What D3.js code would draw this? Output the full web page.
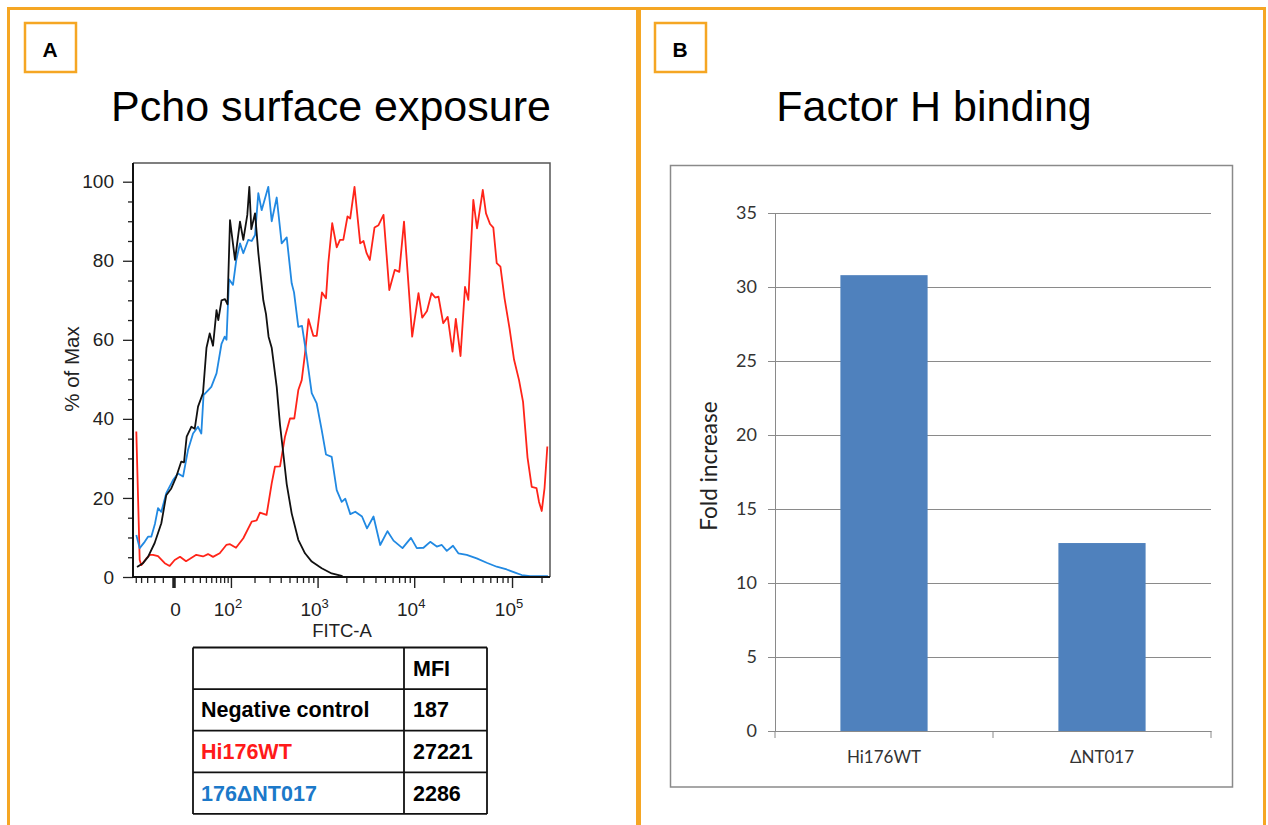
<!DOCTYPE html>
<html>
<head>
<meta charset="utf-8">
<script src="https://cdn.jsdelivr.net/npm/d3@7"></script>
<style>
  body { margin: 0; background: #fff; }
  svg { display: block; }
</style>
</head>
<body>
<svg id="svg" width="1268" height="825"></svg>
<script>
// ---------- data: panel A (flow histogram, x = FITC-A, y = % of Max) ----------
const negControl = [[-47.5,2.5],[-36.7,3.5],[-28.7,5.1],[-19.5,8.6],[-11.6,13.6],[-6.5,20.7],[-1.9,22.4],[2.4,25.4],
  [7.0,29.2],[9.8,29],[12.7,35.5],[18.2,38],[22.6,37.5],[27.3,43.1],[35.0,46.5],[41.0,58],[47.0,61.6],[53.6,58.5],
  [61.2,67.5],[65.3,65],[73.2,70],[82.4,70.3],[89.6,69],[97.1,90.3],[113.6,80.2],[132.1,89.9],[145.6,85.3],[163.4,91.6],
  [173,98.7],[183,88],[203,92],[222,82],[254,70],[273,66.5],[292,60.8],[317,58],[361,48.1],[393,38.5],[427,31.3],
  [466,23.5],[528,16.1],[623,9.4],[735,6],[867,3.9],[1105,2.2],[1407,0.9],[1789,0.3],[1847,0]];

const mutant017 = [[-48.9,10.6],[-42.5,7.3],[-33.9,8.9],[-28.7,10.2],[-24.0,10.2],[-19.1,13.5],[-15.4,17.4],[-11.6,16.5],
  [-6.5,21.2],[-0.4,24.5],[3.9,26.2],[8.8,25.4],[14.2,32.1],[20.4,36.3],[27.3,38],[32.3,36.3],[35.9,46],[44.3,47.3],
  [50.1,48.1],[61.2,51.5],[73.2,59],[81.6,60.8],[86.7,60],[94.0,75.3],[106.7,73.9],[118.2,80.2],[132.1,84.4],[145.6,81.9],
  [168.1,85.3],[185,85],[203,86.5],[222,97.1],[243,92.8],[290,98.7],[317,90],[361,96],[410,84.4],[466,85.9],[528,74.3],
  [560,72],[623,63.3],[683,63.5],[767,55.7],[867,46.5],[979,43.9],[1105,37.2],[1226,31],[1407,30.4],[1588,22],[1789,19],
  [1951,19.8],[2199,15.9],[2477,16.5],[2906,15.3],[3273,12.3],[3820,15.3],[4476,8.1],[5320,11.6],[6134,9.2],[7585,7.3],
  [9260,9.9],[10630,7.3],[12450,7.4],[14580,8.9],[17030,7.7],[19160,8.1],[21560,6.6],[24940,7.9],[28270,6],[34440,5.6],
  [43570,4.7],[55130,3.6],[69760,2.6],[88250,1.9],[107400,1.1],[125700,0.5],[152800,0.2],[232700,0.2]];

const wildType = [[-48.9,36.8],[-42.5,4.3],[-39.6,3.0],[-31.3,4.7],[-25.8,5.6],[-21.7,5.6],[-15.4,5.3],[-8.0,3.5],
  [-3.3,2.8],[1.0,4.3],[5.8,5.1],[12.0,4.0],[16.6,4.6],[24.8,5.6],[35.0,5.2],[43.8,5.8],[53.6,5.1],[68.7,6],[86.1,8.1],
  [97.1,8.3],[117.1,7.4],[145.6,9.8],[185,14],[212,14.3],[232,16.3],[277,15.7],[317,23.7],[345,27.9],[393,28],[446,35.5],
  [506,40.1],[564,40.1],[623,47.3],[678,49.8],[735,56.5],[801,65.2],[901,61],[979,61],[1113,72],[1226,70.5],[1297,79.4],
  [1425,89.5],[1588,83.4],[1718,85.3],[1860,85.3],[2056,91.2],[2194,90.7],[2431,98.7],[2784,84.4],[3012,85],[3234,82],
  [3498,80.2],[3910,88.4],[4300,89],[4840,91.6],[5550,72.6],[6325,77.7],[7030,77.2],[7860,89.9],[9530,60.8],[11060,71.8],
  [12070,65.6],[13520,67.3],[15030,71.8],[16400,70.7],[17720,70.9],[19800,64.2],[22020,65.8],[24650,57],[26650,65.3],
  [29770,55.9],[33100,73.4],[35770,70.1],[40240,95.4],[43880,88.2],[50290,97.9],[54220,92],[59590,89.3],[64400,88.4],
  [69760,79.4],[76120,78.5],[83860,70.5],[94300,62.9],[104800,55],[117900,49.8],[129600,44.3],[144000,30.2],[158900,22.8],
  [177900,22.5],[188700,19],[201100,16.7],[214800,22.5],[229400,33]];

const histYTicks = [0, 20, 40, 60, 80, 100];
const histXMajor = [0, 100, 1000, 10000, 100000];
const histXLabels = [["0", ""], ["10", "2"], ["10", "3"], ["10", "4"], ["10", "5"]];

// MFI table
const tableNames = ["Negative control", "Hi176WT", "176\u0394NT017"];
const tableMFI = ["187", "27221", "2286"];

// ---------- data: panel B (bar chart) ----------
const barCategories = ["Hi176WT", "\u0394NT017"];
const barValues = [30.8, 12.7];
const barTicks = [0, 5, 10, 15, 20, 25, 30, 35];

// ---------- drawing ----------
const svg = d3.select('#svg');
const orange = '#f5a623';
const arial = '"Liberation Sans", Arial, sans-serif';

// panel frames
svg.append('rect').attr('x', 8.5).attr('y', 8.5).attr('width', 629).attr('height', 840)
  .attr('fill', 'none').attr('stroke', orange).attr('stroke-width', 3);
svg.append('rect').attr('x', 639.5).attr('y', 8.5).attr('width', 625).attr('height', 840)
  .attr('fill', 'none').attr('stroke', orange).attr('stroke-width', 3);

// panel letters
[['A', 25, 50], ['B', 655, 680]].forEach(function (p) {
  svg.append('rect').attr('x', p[1]).attr('y', 23).attr('width', 51).attr('height', 49)
    .attr('fill', '#fff').attr('stroke', orange).attr('stroke-width', 2.5);
  svg.append('text').attr('x', p[2]).attr('y', 57).attr('text-anchor', 'middle')
    .style('font', 'bold 21px ' + arial).text(p[0]);
});

// titles
svg.append('text').attr('x', 331).attr('y', 121).attr('text-anchor', 'middle')
  .style('font', '43px ' + arial).text('Pcho surface exposure');
svg.append('text').attr('x', 934).attr('y', 121).attr('text-anchor', 'middle')
  .style('font', '43px ' + arial).text('Factor H binding');

// ================= Panel A histogram =================
const xA = d3.scaleSymlog().constant(35).domain([-55.7, 244200]).range([133, 550]);
const yA = d3.scaleLinear().domain([0, 100]).range([577, 181.7]);
const plotTop = 163;

const gA = svg.append('g');

// frame (top and right) in grey
gA.append('path')
  .attr('d', 'M133,' + plotTop + 'H550V577')
  .attr('fill', 'none').attr('stroke', '#555').attr('stroke-width', 1.5);

// clip for the curves
svg.append('clipPath').attr('id', 'clipA').append('rect')
  .attr('x', 133).attr('y', plotTop).attr('width', 417).attr('height', 577 - plotTop);

const line = d3.line().x(d => xA(d[0])).y(d => yA(d[1]));
const curves = [[wildType, '#ff2419'], [mutant017, '#2189e2'], [negControl, '#111']];
gA.append('g').attr('clip-path', 'url(#clipA)')
  .selectAll('path').data(curves).join('path')
  .attr('d', d => line(d[0]))
  .attr('fill', 'none').attr('stroke', d => d[1]).attr('stroke-width', 1.8)
  .attr('stroke-linejoin', 'round');

// y axis: minor ticks every 5, major every 20
const yMinor = d3.range(0, 101, 5).filter(v => histYTicks.indexOf(v) < 0);
gA.append('g').attr('transform', 'translate(133,0)')
  .call(d3.axisLeft(yA).tickValues(yMinor).tickSize(5).tickFormat(''))
  .call(g => g.select('.domain').remove())
  .selectAll('line').attr('stroke', '#222').attr('stroke-width', 1.3);
const yAxisA = gA.append('g').attr('transform', 'translate(133,0)')
  .call(d3.axisLeft(yA).tickValues(histYTicks).tickSize(10).tickPadding(9))
  .call(g => g.select('.domain').remove());
yAxisA.selectAll('line').attr('stroke', '#222').attr('stroke-width', 1.3);
yAxisA.selectAll('text').style('font', '19px ' + arial).attr('fill', '#222');

// x axis: minor ticks (negative and positive log-spaced), major ticks at decades
const xMinor = [-50, -40, -30, -20, -10];
[10, 100, 1000, 10000].forEach(function (d) {
  for (let m = 1; m <= 9; m++) if (m > 1 || d === 10) xMinor.push(m * d);
});
xMinor.push(200000);
const xMinorF = xMinor.filter(v => histXMajor.indexOf(v) < 0);
gA.append('g').attr('transform', 'translate(0,577)')
  .call(d3.axisBottom(xA).tickValues(xMinorF).tickSize(6).tickFormat(''))
  .call(g => g.select('.domain').remove())
  .selectAll('line').attr('stroke', '#222').attr('stroke-width', 1.3);
const xAxisA = gA.append('g').attr('transform', 'translate(0,577)')
  .call(d3.axisBottom(xA).tickValues(histXMajor).tickSize(11).tickFormat(''))
  .call(g => g.select('.domain').remove());
xAxisA.selectAll('line').attr('stroke', '#222').attr('stroke-width', (d) => d === 0 ? 3.5 : 1.4);

// decade labels with superscripts
const xLab = gA.append('g').selectAll('text').data(histXMajor).join('text')
  .attr('x', (d, i) => xA(d) + (i === 0 ? 2 : -3)).attr('y', 616)
  .attr('text-anchor', 'middle').attr('fill', '#222')
  .style('font', '19px ' + arial);
xLab.append('tspan').text((d, i) => histXLabels[i][0]);
xLab.append('tspan').attr('dy', -8).style('font-size', '13px').text((d, i) => histXLabels[i][1]);

// axis lines
gA.append('path').attr('d', 'M133,' + plotTop + 'V577H550')
  .attr('fill', 'none').attr('stroke', '#111').attr('stroke-width', 2);

// axis titles
gA.append('text').attr('x', 342).attr('y', 637).attr('text-anchor', 'middle')
  .style('font', '18.5px ' + arial).attr('fill', '#222').text('FITC-A');
gA.append('text').attr('transform', 'translate(79,369) rotate(-90)').attr('text-anchor', 'middle')
  .style('font', '20.5px ' + arial).attr('fill', '#222').text('% of Max');

// ================= MFI table =================
const tX = [193, 404, 487];
const tY = d3.range(5).map(i => 647.5 + i * 41.6);
const tbl = svg.append('g');
const tableRows = [["", "MFI"]].concat(tableNames.map((n, i) => [n, tableMFI[i]]));
const nameColors = ['#000', '#000', '#ff1a1a', '#1c79c9'];
tbl.selectAll('text.name').data(tableRows).join('text')
  .attr('x', tX[0] + 8).attr('y', (d, i) => (tY[i] + tY[i + 1]) / 2 + 7.5)
  .attr('fill', (d, i) => nameColors[i])
  .style('font', 'bold 21.5px ' + arial).text(d => d[0]);
tbl.selectAll('text.mfi').data(tableRows).join('text')
  .attr('x', tX[1] + 9).attr('y', (d, i) => (tY[i] + tY[i + 1]) / 2 + 7.5)
  .attr('fill', '#000').style('font', 'bold 21.5px ' + arial).text(d => d[1]);
tY.forEach(y => tbl.append('line').attr('x1', tX[0]).attr('x2', tX[2]).attr('y1', y).attr('y2', y)
  .attr('stroke', '#111').attr('stroke-width', 1.8));
tX.forEach(x => tbl.append('line').attr('x1', x).attr('x2', x).attr('y1', tY[0]).attr('y2', tY[4])
  .attr('stroke', '#111').attr('stroke-width', 1.8));

// ================= Panel B bar chart =================
const calibri = 'Lato, "Open Sans", sans-serif';
svg.append('rect').attr('x', 670.5).attr('y', 165.5).attr('width', 562).attr('height', 621.5)
  .attr('fill', '#fff').attr('stroke', '#8a8a8a').attr('stroke-width', 1.5);

const xB = d3.scaleBand().domain(barCategories).range([775, 1211]).paddingInner(0.6).paddingOuter(0.3);
const yB = d3.scaleLinear().domain([0, 35]).range([731, 213]);
const gB = svg.append('g');

// gridlines + y labels
const yAxisB = gB.append('g').attr('transform', 'translate(775,0)')
  .call(d3.axisLeft(yB).tickValues(barTicks).tickSize(7).tickPadding(11))
  .call(g => g.select('.domain').attr('stroke', '#8a8a8a'));
yAxisB.selectAll('.tick line').attr('stroke', '#8a8a8a')
  .clone().attr('x1', 0).attr('x2', 1211 - 775);
yAxisB.selectAll('text').style('font', '18px ' + calibri).attr('fill', '#333');

// bars
gB.selectAll('rect').data(barValues).join('rect')
  .attr('x', (d, i) => xB(barCategories[i])).attr('width', xB.bandwidth())
  .attr('y', d => yB(d)).attr('height', d => yB(0) - yB(d))
  .attr('fill', '#4f81bd');

// category axis
const xAxisB = gB.append('g').attr('transform', 'translate(0,731)')
  .call(d3.axisBottom(xB).tickSize(0).tickPadding(20))
  .call(g => g.select('.domain').attr('stroke', '#8a8a8a').attr('stroke-width', 1.2));
xAxisB.selectAll('text').style('font', '17px ' + calibri).attr('fill', '#333');
const bounds = [775, 775 + xB.step(), 1211];
gB.selectAll('line.cat').data(bounds).join('line')
  .attr('x1', d => d).attr('x2', d => d).attr('y1', 731).attr('y2', 738)
  .attr('stroke', '#8a8a8a');

gB.append('text').attr('transform', 'translate(717,466) rotate(-90)').attr('text-anchor', 'middle')
  .style('font', '22.5px ' + calibri).attr('fill', '#222').text('Fold increase');
</script>
</body>
</html>
